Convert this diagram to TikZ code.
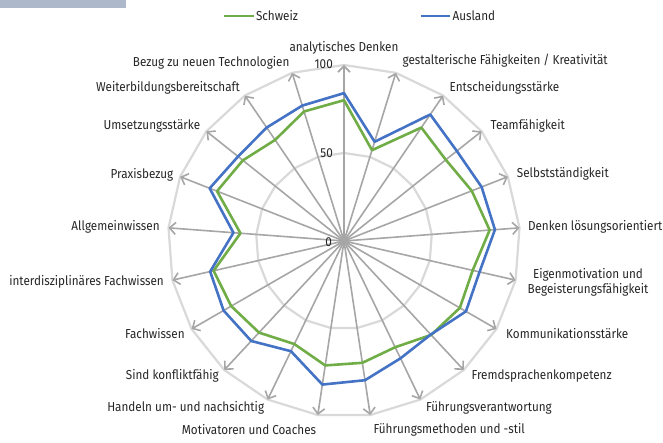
\documentclass[tikz,border=0pt]{standalone}
\usepackage{fontspec}
\setmainfont[FakeStretch=0.9]{Fira Sans}
\usetikzlibrary{arrows.meta}
\definecolor{cgreen}{HTML}{70AD47}
\definecolor{cblue}{HTML}{4472C4}
\definecolor{caxis}{HTML}{A6A6A6}
\definecolor{cgrid}{HTML}{D9D9D9}
\definecolor{cbar}{HTML}{ADB9CA}
\begin{document}
\begin{tikzpicture}[x=1pt,y=1pt, font=\fontsize{13}{15}\selectfont,
 gridline/.style={draw=cgrid, line width=2.2pt},
 axisline/.style={draw=caxis, line width=1.6pt, -{Straight Barb[length=6pt,width=12pt]}},
 series/.style={line width=2.6pt, line join=round},
 lbl/.style={inner sep=0pt, text=black!85},
 tick/.style={inner sep=0pt, anchor=east, text=black!85}]
\useasboundingbox (-344,-202) rectangle (319,241);
\fill[cbar] (-344,241) rectangle (-218,232.7);
% grid rings
\foreach \r in {88,176} {
  \draw[gridline] (90:\r) \foreach \k in {1,...,20}{ -- ({90-\k*360/21}:\r)} -- cycle;
}
% axes
\coordinate (O) at (0,0);
\foreach \k in {0,...,20} {
  \coordinate (a\k) at ({90-\k*360/21}:176);
  \draw[axisline] (O) -- (a\k);
}
% data
\foreach \v [count=\i from 0] in {80,54,78,74,78,83,75,76,72.8,67,70,71.5,65,71,74,76,59,77.5,73.5,69.5,77}
  \coordinate (g\i) at ({90-\i*360/21}:{\v*1.76});
\foreach \v [count=\i from 0] in {84,59,87,82,84,86,79,80,72.5,74,80,82.5,69.5,77.5,79,78,63,82,77,78,80.5}
  \coordinate (b\i) at ({90-\i*360/21}:{\v*1.76});
\draw[series, cgreen] (g0) \foreach \i in {1,...,20}{ -- (g\i)} -- cycle;
\draw[series, cblue] (b0) \foreach \i in {1,...,20}{ -- (b\i)} -- cycle;
% ticks
\node[tick] (t100) at (-11,177) {100};
\node[tick] (t50) at (-11,88) {50};
\node[tick] (t0) at (-12,-1) {0};
% legend
\coordinate (lg1) at (-120,225); \coordinate (lg2) at (-90.3,225);
\draw[series, cgreen] (lg1) -- (lg2);
\node[lbl, anchor=west] (lgs) at (-88.2,225) {Schweiz};
\coordinate (lb1) at (76.7,225); \coordinate (lb2) at (106.3,225);
\draw[series, cblue] (lb1) -- (lb2);
\node[lbl, anchor=west] (lga) at (108.4,225) {Ausland};
% labels
\node[lbl] (l0) at (0,193) {analytisches Denken};
\node[lbl, anchor=west] (l1) at (58.5,180) {gestalterische Fähigkeiten / Kreativität};
\node[lbl, anchor=west] (l2) at (105.5,153) {Entscheidungsstärke};
\node[lbl, anchor=west] (l3) at (146.5,115) {Teamfähigkeit};
\node[lbl, anchor=west] (l4) at (172.7,67) {Selbstständigkeit};
\node[lbl, anchor=east] (l5) at (318.5,14) {Denken lösungsorientiert};
\node[lbl, align=center] (l6) at (244,-41) {Eigenmotivation und\\Begeisterungsfähigkeit};
\node[lbl, anchor=west] (l7) at (162,-93) {Kommunikationsstärke};
\node[lbl, anchor=west] (l8) at (127.5,-135) {Fremdsprachenkompetenz};
\node[lbl, anchor=west] (l9) at (81.8,-167) {Führungsverantwortung};
\node[lbl, anchor=west] (l10) at (29.4,-189) {Führungsmethoden und -stil};
\node[lbl, anchor=east] (l11) at (-27.7,-189) {Motivatoren und Coaches};
\node[lbl, anchor=east] (l12) at (-79.7,-167) {Handeln um- und nachsichtig};
\node[lbl, anchor=east] (l13) at (-125,-135) {Sind konfliktfähig};
\node[lbl, anchor=east] (l14) at (-159.2,-93) {Fachwissen};
\node[lbl, anchor=east] (l15) at (-180,-41) {interdisziplinäres Fachwissen};
\node[lbl, anchor=east] (l16) at (-184.2,14) {Allgemeinwissen};
\node[lbl, anchor=east] (l17) at (-170.6,66) {Praxisbezug};
\node[lbl, anchor=east] (l18) at (-143.6,115) {Umsetzungsstärke};
\node[lbl, anchor=east] (l19) at (-104,153) {Weiterbildungsbereitschaft};
\node[lbl, anchor=east] (l20) at (-54.4,178) {Bezug zu neuen Technologien};
\end{tikzpicture}
\end{document}
